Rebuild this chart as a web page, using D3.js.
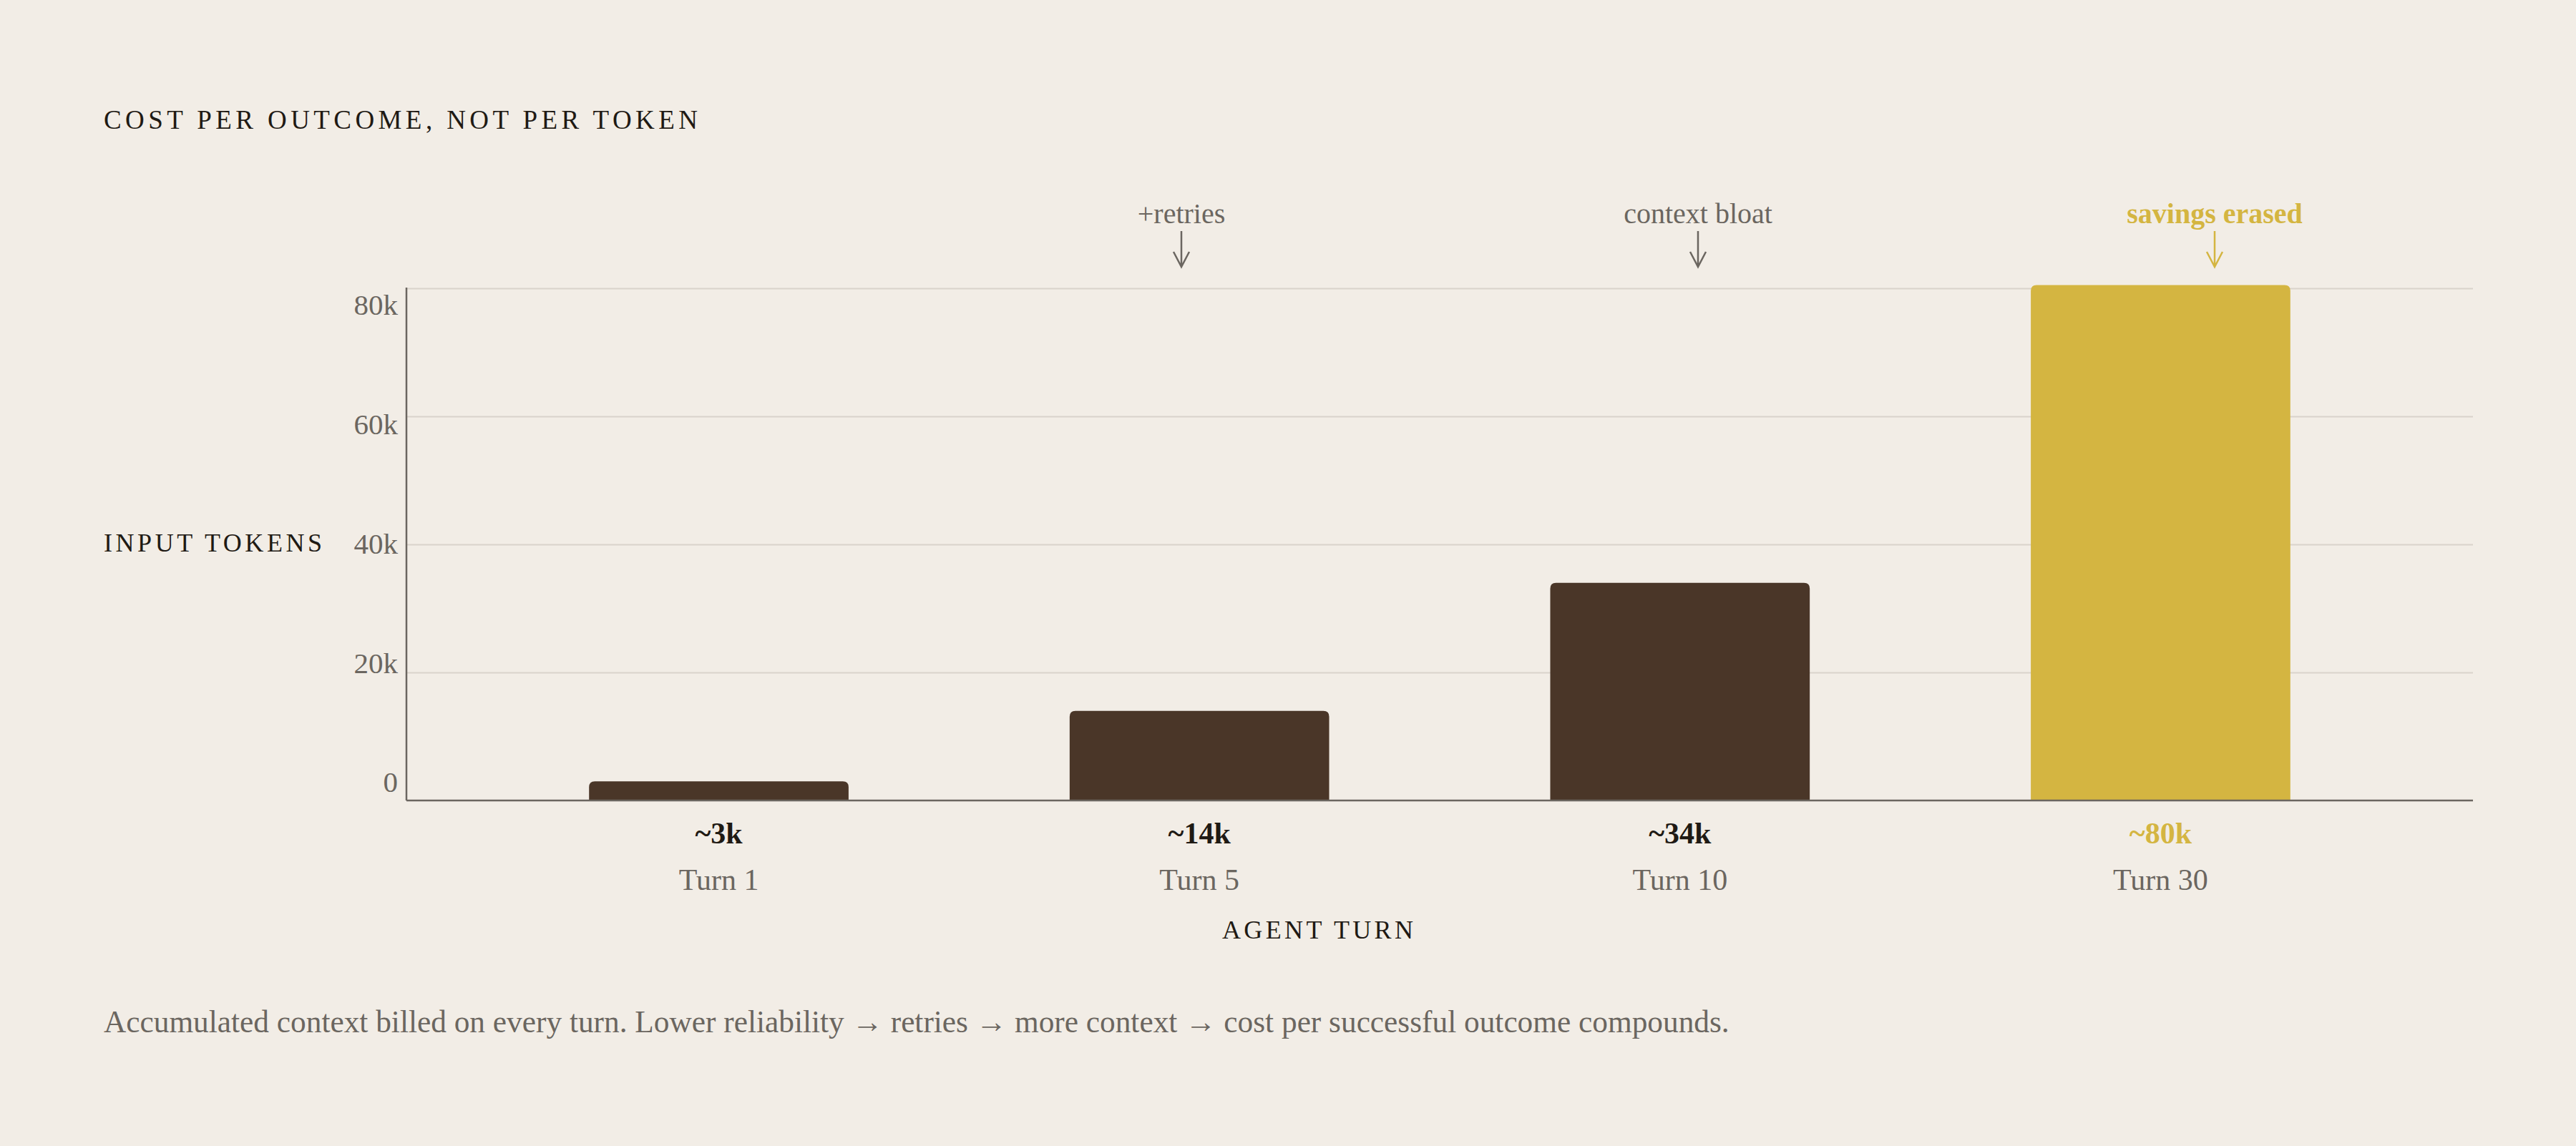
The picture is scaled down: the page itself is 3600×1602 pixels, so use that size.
<!DOCTYPE html>
<html>
<head>
<meta charset="utf-8">
<script src="https://cdn.jsdelivr.net/npm/d3@7"></script>
<style>
  html, body { margin: 0; padding: 0; background: #f2ede6; }
  svg { display: block; font-family: "Liberation Serif", serif; }
</style>
</head>
<body>
<svg id="chart" width="3600" height="1602"></svg>
<script>
const turns = ["Turn 1", "Turn 5", "Turn 10", "Turn 30"];
const tokens = [3000, 14000, 34000, 80500];
const valueLabels = ["~3k", "~14k", "~34k", "~80k"];
const yTicks = [0, 20000, 40000, 60000, 80000];
const yTickLabels = ["0", "20k", "40k", "60k", "80k"];
const noteTurns = ["Turn 5", "Turn 10", "Turn 30"];
const noteTexts = ["+retries", "context bloat", "savings erased"];
const highlight = "Turn 30";

const width = 3600;
const height = 1602;
const margin = { top: 403, left: 568, bottom: 483, right: 144 };
const iwidth = width - margin.left - margin.right;
const iheight = height - margin.top - margin.bottom;

const ink = "#1f1a14";
const grey = "#6b6660";
const brown = "#4a3628";
const gold = "#d4b541";

const svg = d3.select("#chart");
const g = svg.append("g").attr("transform", `translate(${margin.left},${margin.top})`);

const y = d3.scaleLinear().domain([0, 80000]).range([iheight, 0]);
// tick labels sit in an evenly spaced column slightly inside the grid
const yLabel = d3.scaleLinear().domain([0, 80000]).range([iheight - 26, 23]);

const x = d3.scaleBand()
  .domain(turns)
  .range([0, iwidth])
  .paddingInner(0.46)
  .paddingOuter(0.38);

// annotations sit on an even split of the plot width
const xNote = d3.scaleBand().domain(turns).range([0, iwidth]);

// grid
g.append("g")
  .attr("class", "grid")
  .call(d3.axisLeft(y).tickValues(yTicks.slice(1)).tickSize(-iwidth).tickFormat(""))
  .call(s => s.select(".domain").remove())
  .call(s => s.selectAll("line").attr("stroke", "#d9d3cb").attr("stroke-width", 2));

// y tick labels
g.append("g")
  .selectAll("text")
  .data(yTicks)
  .join("text")
  .attr("x", -12)
  .attr("y", d => yLabel(d))
  .attr("dy", "0.35em")
  .attr("text-anchor", "end")
  .attr("fill", grey)
  .attr("font-size", 41)
  .text((d, i) => yTickLabels[i]);

// bars, rounded top corners
const r = 8;
function barPath(d, i) {
  const x0 = x(turns[i]), x1 = x0 + x.bandwidth();
  const y0 = y(d), yb = y(0);
  return `M${x0},${yb}V${y0 + r}Q${x0},${y0} ${x0 + r},${y0}H${x1 - r}Q${x1},${y0} ${x1},${y0 + r}V${yb}Z`;
}
g.selectAll("path.bar")
  .data(tokens)
  .join("path")
  .attr("class", "bar")
  .attr("d", barPath)
  .attr("fill", (d, i) => turns[i] === highlight ? gold : brown);

// axis lines
g.append("line")
  .attr("x1", 0).attr("x2", 0).attr("y1", -1).attr("y2", iheight)
  .attr("stroke", grey).attr("stroke-width", 2.5);
g.append("line")
  .attr("x1", 0).attr("x2", iwidth).attr("y1", iheight).attr("y2", iheight)
  .attr("stroke", grey).attr("stroke-width", 2.5);

// value labels
g.append("g")
  .selectAll("text")
  .data(valueLabels)
  .join("text")
  .attr("x", (d, i) => x(turns[i]) + x.bandwidth() / 2)
  .attr("y", iheight + 60)
  .attr("text-anchor", "middle")
  .attr("font-weight", "bold")
  .attr("font-size", 42)
  .attr("fill", (d, i) => turns[i] === highlight ? gold : ink)
  .text(d => d);

// category labels
g.append("g")
  .attr("transform", `translate(0,${iheight})`)
  .call(d3.axisBottom(x).tickSize(0))
  .call(s => s.select(".domain").remove())
  .call(s => s.selectAll("text")
    .attr("y", 125).attr("dy", 0)
    .attr("font-family", "Liberation Serif, serif")
    .attr("font-size", 42)
    .attr("fill", grey));

// annotations
const notes = g.append("g")
  .selectAll("g")
  .data(noteTurns)
  .join("g")
  .attr("transform", d => `translate(${xNote(d) + xNote.bandwidth() / 2},0)`);
notes.append("text")
  .attr("y", -91)
  .attr("text-anchor", "middle")
  .attr("font-size", 40)
  .attr("font-weight", d => d === highlight ? "bold" : "normal")
  .attr("fill", d => d === highlight ? gold : grey)
  .text((d, i) => noteTexts[i]);
notes.append("path")
  .attr("d", "M0,-80V-30M-11,-51L0,-30L11,-51")
  .attr("fill", "none")
  .attr("stroke-width", 2.5)
  .attr("stroke", d => d === highlight ? gold : grey);

// titles
svg.append("text")
  .attr("x", 145).attr("y", 180)
  .attr("font-size", 37)
  .attr("fill", ink)
  .attr("textLength", 830).attr("lengthAdjust", "spacing")
  .text("COST PER OUTCOME, NOT PER TOKEN");

svg.append("text")
  .attr("x", 145).attr("y", 771)
  .attr("font-size", 36)
  .attr("fill", ink)
  .attr("textLength", 305).attr("lengthAdjust", "spacing")
  .text("INPUT TOKENS");

svg.append("text")
  .attr("x", 1708).attr("y", 1312)
  .attr("font-size", 36)
  .attr("fill", ink)
  .attr("textLength", 267).attr("lengthAdjust", "spacing")
  .text("AGENT TURN");

const foot = svg.append("text")
  .attr("x", 145).attr("y", 1443)
  .attr("font-size", 37)
  .attr("fill", grey)
  .text("Accumulated context billed on every turn. Lower reliability \u2192 retries \u2192 more context \u2192 cost per successful outcome compounds.");
const fw = foot.node().getComputedTextLength();
foot.attr("font-size", 37 * 2272 / fw);
</script>
</body>
</html>
